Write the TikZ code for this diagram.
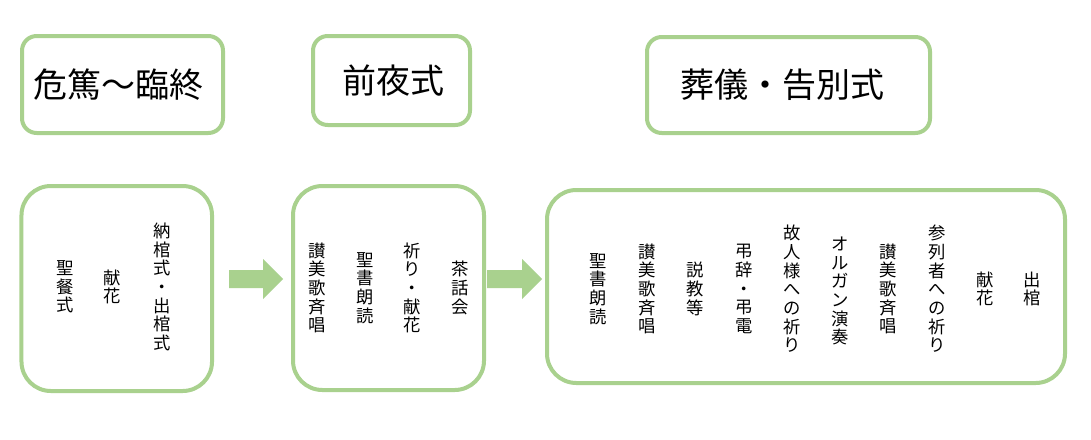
\documentclass[tikz,border=0pt]{standalone}
\usepackage{fontspec}
\setmainfont{Noto Sans CJK JP}
\definecolor{lgreen}{HTML}{A9D18E}
\tikzset{
  tbox/.style={draw=lgreen, line width=3pt, rounded corners=11pt, inner sep=0pt},
  ttext/.style={inner sep=0pt, font=\fontsize{25.5}{30}\selectfont},
  cbox/.style={draw=lgreen, line width=3pt, rounded corners=22pt, inner sep=0pt},
  vcol/.style={align=center, inner sep=0pt, font=\fontsize{13}{14}\selectfont},
  arr/.style={fill=lgreen, draw=none}
}
\begin{document}
\begin{tikzpicture}[x=0.75pt,y=-0.75pt]
\fill[white] (0,0) rectangle (1091,439);
\useasboundingbox (0,0) rectangle (1091,439);

% title boxes
\node[tbox, minimum width=150.75pt, minimum height=72.75pt] (t1) at (122.5,84.5) {};
\node[tbox, minimum width=117.75pt, minimum height=66.75pt] (t2) at (391.5,80.5) {};
\node[tbox, minimum width=212.25pt, minimum height=72pt] (t3) at (788.5,85) {};
\node[ttext] (tt1) at (118,85) {危篤～臨終};
\node[ttext] (tt2) at (393,81) {前夜式};
\node[ttext] (tt3) at (782.5,85) {葬儀・告別式};

% content boxes
\node[cbox, minimum width=142.9pt, minimum height=153.75pt] (b1) at (116.75,288.5) {};
\node[cbox, minimum width=143.25pt, minimum height=153pt] (b2) at (388.5,288) {};
\node[cbox, minimum width=388.5pt, minimum height=144.75pt] (b3) at (806,286.5) {};

% box 1 columns
\node[vcol] (c11) at (65,287) {聖\\餐\\式};
\node[vcol] (c12) at (112,287) {献\\花};
\node[vcol] (c13) at (162,287) {納\\棺\\式\\・\\出\\棺\\式};

% box 2 columns
\node[vcol] (c21) at (317,288) {讃\\美\\歌\\斉\\唱};
\node[vcol] (c22) at (365,288) {聖\\書\\朗\\読};
\node[vcol] (c23) at (412,288) {祈\\り\\・\\献\\花};
\node[vcol] (c24) at (460,288) {茶\\話\\会};

% box 3 columns
\node[vcol] (c31) at (598,289) {聖\\書\\朗\\読};
\node[vcol] (c32) at (647,289) {讃\\美\\歌\\斉\\唱};
\node[vcol] (c33) at (695,289) {説\\教\\等};
\node[vcol] (c34) at (744,289) {弔\\辞\\・\\弔\\電};
\node[vcol] (c35) at (792,289) {故\\人\\様\\へ\\の\\祈\\り};
\node[vcol] (c36) at (840,291) {オ\\ル\\ガ\\ン\\演\\奏};
\node[vcol] (c37) at (888,289) {讃\\美\\歌\\斉\\唱};
\node[vcol] (c38) at (937,289) {参\\列\\者\\へ\\の\\祈\\り};
\node[vcol] (c39) at (985,289) {献\\花};
\node[vcol] (c310) at (1032,289) {出\\棺};

% block arrows
\coordinate (a1) at (229,279);
\coordinate (a2) at (487,279);
\fill[arr] (a1) ++(0,-9) -- ++(34,0) -- ++(0,-11) -- ++(20,20) -- ++(-20,20) -- ++(0,-11) -- ++(-34,0) -- cycle;
\fill[arr] (a2) ++(0,-9) -- ++(35,0) -- ++(0,-11) -- ++(20,20) -- ++(-20,20) -- ++(0,-11) -- ++(-35,0) -- cycle;
\end{tikzpicture}
\end{document}
